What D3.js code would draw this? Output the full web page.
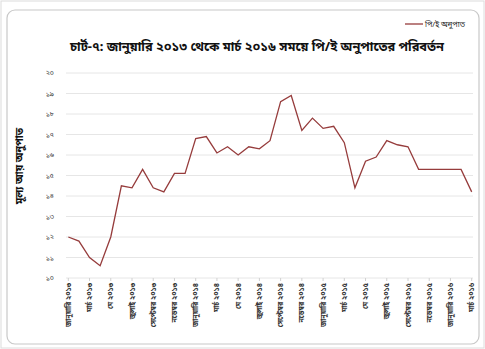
<!DOCTYPE html>
<html><head><meta charset="utf-8">
<script src="https://cdn.jsdelivr.net/npm/d3@7"></script>
<style>
html,body{margin:0;padding:0;background:#fff;}
svg{display:block;font-family:"Noto Sans Bengali","Noto Sans","Lohit Bengali",sans-serif;}
</style></head>
<body><svg id="c" width="485" height="349"></svg>
<script>
const title = "চার্ট-৭: জানুয়ারি ২০১৩ থেকে মার্চ ২০১৬ সময়ে পি/ই অনুপাতের পরিবর্তন";
const yTitle = "মূল্য আয় অনুপাত";
const seriesName = "পি/ই অনুপাত";
const months = ["জানুয়ারি","ফেব্রুয়ারি","মার্চ","এপ্রিল","মে","জুন","জুলাই","আগস্ট","সেপ্টেম্বর","অক্টোবর","নভেম্বর","ডিসেম্বর"];
const years = ["২০১৩","২০১৪","২০১৫","২০১৬"];
const categories = [];
for (let i = 0; i < 39; i++) categories.push(months[i % 12] + " " + years[Math.floor(i / 12)]);
const peValues = [12.0,11.8,11.0,10.6,12.0,14.5,14.4,15.3,14.4,14.2,15.1,15.1,16.8,16.9,16.1,16.4,16.0,16.4,16.3,16.7,18.6,18.9,17.2,17.8,17.3,17.4,16.6,14.4,15.7,15.9,16.7,16.5,16.4,15.3,15.3,15.3,15.3,15.3,14.2];
const yTicks = [10,11,12,13,14,15,16,17,18,19,20];
const yTickLabels = ["১০","১১","১২","১৩","১৪","১৫","১৬","১৭","১৮","১৯","২০"];

const svg = d3.select("#c");
svg.append("rect").attr("x",1).attr("y",1).attr("width",483).attr("height",347).attr("fill","#fff").attr("stroke","#dcdcdc");
svg.append("rect").attr("x",7).attr("y",10).attr("width",472).attr("height",334).attr("rx",8).attr("fill","#fff").attr("stroke","#c8c8c8").attr("stroke-width",1.2);

const pL = 63, pR = 477, pT = 73, pB = 278;
const x = d3.scalePoint().domain(categories).range([pL, pR]).padding(0.5);
const y = d3.scaleLinear().domain([10,20]).range([pB, pT]);

svg.append("g").selectAll("line").data(yTicks).join("line")
  .attr("x1",pL+3).attr("x2",pR-4).attr("y1",d=>y(d)).attr("y2",d=>y(d))
  .attr("stroke","#e6e6e6").attr("stroke-width",1);

svg.append("g").selectAll("text").data(yTicks).join("text")
  .attr("x",54).attr("y",d=>y(d)).attr("dy","0.35em").attr("text-anchor","end")
  .attr("font-size",7).attr("fill","#333").text((d,i)=>yTickLabels[i]);

const labeled = categories.filter((d,i)=>i%2===0);
svg.append("g").selectAll("line").data(labeled).join("line")
  .attr("x1",d=>x(d)).attr("x2",d=>x(d)).attr("y1",pB).attr("y2",pB+3)
  .attr("stroke","#d0d0d0");
svg.append("g").selectAll("text").data(labeled).join("text")
  .attr("transform",d=>`translate(${x(d)+2.5},${pB+5}) rotate(-90)`)
  .attr("text-anchor","end").attr("font-size",7).attr("font-weight","bold").attr("fill","#333")
  .text(d=>d);

const line = d3.line().x((d,i)=>x(categories[i])).y(d=>y(d));
svg.append("path").datum(peValues).attr("d",line).attr("fill","none")
  .attr("stroke","#963c3c").attr("stroke-width",1.3);

svg.append("text").attr("x",257).attr("y",51).attr("text-anchor","middle")
  .attr("font-size",12.5).attr("font-weight","bold").attr("fill","#111")
  .attr("textLength",374).attr("lengthAdjust","spacingAndGlyphs").text(title);

svg.append("text").attr("transform","translate(23,166) rotate(-90)").attr("text-anchor","middle")
  .attr("font-size",10.5).attr("font-weight","bold").attr("fill","#111").text(yTitle);

svg.append("line").attr("x1",405).attr("x2",423).attr("y1",24).attr("y2",24).attr("stroke","#963c3c").attr("stroke-width",1.3);
svg.append("text").attr("x",425).attr("y",24).attr("dy","0.35em").attr("font-size",7.5).attr("fill","#222").text(seriesName);
</script></body></html>
